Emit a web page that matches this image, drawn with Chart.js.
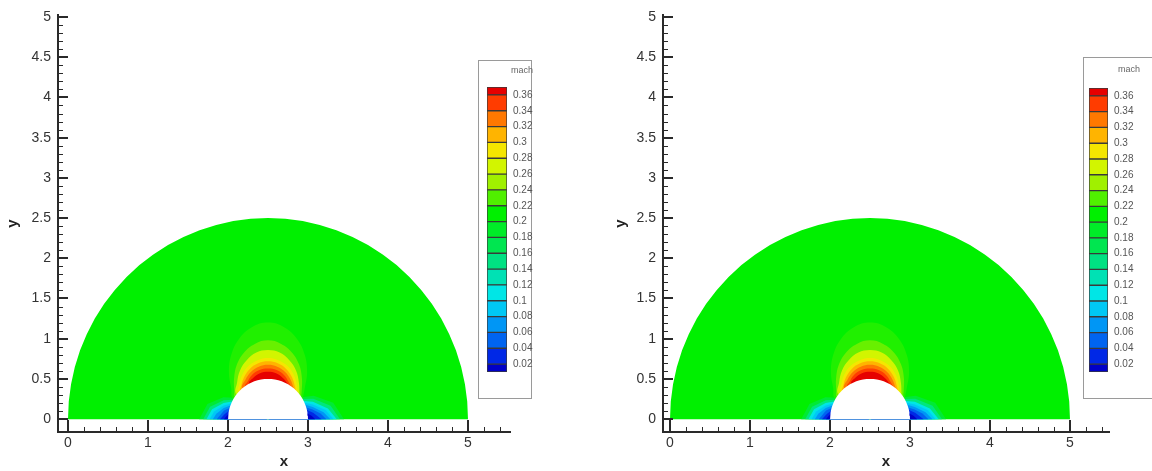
<!DOCTYPE html>
<html>
<head>
<meta charset="utf-8">
<script src="https://cdn.jsdelivr.net/npm/chart.js@4.4.0/dist/chart.umd.min.js"></script>
<style>
  html, body { margin: 0; padding: 0; background: #fff; }
  body { width: 1152px; height: 471px; position: relative; overflow: hidden; }
  canvas { position: absolute; }
  .legbox { position: absolute; border: 1px solid #9a9a9a; background: #fff; box-sizing: border-box; }
</style>
</head>
<body>
<canvas id="plotL" width="576" height="471" style="left:0;top:0"></canvas>
<canvas id="plotR" width="576" height="471" style="left:576px;top:0"></canvas>
<div class="legbox" style="left:478px;top:60px;width:54px;height:339px"></div>
<canvas id="barL" width="51" height="320" style="left:482px;top:64px"></canvas>
<div class="legbox" style="left:1083px;top:57px;width:80px;height:342px"></div>
<canvas id="barR" width="54" height="323" style="left:1086px;top:61px"></canvas>
<script>
Chart.defaults.font.family = "'Liberation Sans', Arial, sans-serif";

// colour bar levels (mach)
const LEVELS = [0.02, 0.04, 0.06, 0.08, 0.1, 0.12, 0.14, 0.16, 0.18, 0.2,
                0.22, 0.24, 0.26, 0.28, 0.3, 0.32, 0.34, 0.36];
const LEVEL_LABELS = ['0.02', '0.04', '0.06', '0.08', '0.1', '0.12', '0.14', '0.16', '0.18', '0.2',
                      '0.22', '0.24', '0.26', '0.28', '0.3', '0.32', '0.34', '0.36'];
const BAR_RANGE = [0.01, 0.37];
// one colour per band, from below 0.02 up to above 0.36
const BAND_COLORS = ['#0000c8', '#0028e6', '#0064f0', '#0096f5', '#00c8f5', '#00e6e6', '#00e1b4',
                     '#00e182', '#00e650', '#00ec28', '#00f000', '#50f000', '#a0f000', '#d2f500',
                     '#f5e600', '#ffb400', '#ff7800', '#ff3c00', '#e60000'];

// axes
const X_TICKS = [0, 1, 2, 3, 4, 5];
const X_LABELS = ['0', '1', '2', '3', '4', '5'];
const Y_TICKS = [0, 0.5, 1, 1.5, 2, 2.5, 3, 3.5, 4, 4.5, 5];
const Y_LABELS = ['0', '0.5', '1', '1.5', '2', '2.5', '3', '3.5', '4', '4.5', '5'];

// domain: half annulus round the cylinder
const CX = 2.5;
const R_OUT = 2.5;
const R_CYL = 0.5;
const ARC_DEG = [0, 5, 10, 15, 20, 25, 30, 35, 40, 45, 50, 55, 60, 65, 70, 75, 80, 85, 90,
                 95, 100, 105, 110, 115, 120, 125, 130, 135, 140, 145, 150, 155, 160, 165, 170, 175, 180];

// contour lines as [angle deg, radius] round the cylinder centre
// fast region over the top (mach above level)
const top22 = [[30, 0.5], [40, 0.6], [50, 0.76], [60, 0.92], [70, 1.06], [80, 1.16], [90, 1.2], [100, 1.16], [110, 1.06], [120, 0.92], [130, 0.76], [140, 0.6], [150, 0.5]];
const top24 = [[34, 0.5], [40, 0.55], [50, 0.66], [60, 0.78], [70, 0.88], [80, 0.95], [90, 0.98], [100, 0.95], [110, 0.88], [120, 0.78], [130, 0.66], [140, 0.55], [146, 0.5]];
const top26 = [[38, 0.5], [50, 0.6], [60, 0.7], [70, 0.78], [80, 0.84], [90, 0.86], [100, 0.84], [110, 0.78], [120, 0.7], [130, 0.6], [142, 0.5]];
const top28 = [[42, 0.5], [50, 0.56], [60, 0.64], [70, 0.705], [80, 0.745], [90, 0.76], [100, 0.745], [110, 0.705], [120, 0.64], [130, 0.56], [138, 0.5]];
const top30 = [[46, 0.5], [50, 0.525], [60, 0.6], [70, 0.665], [80, 0.705], [90, 0.72], [100, 0.705], [110, 0.665], [120, 0.6], [130, 0.525], [134, 0.5]];
const top32 = [[50, 0.5], [60, 0.565], [70, 0.625], [80, 0.662], [90, 0.675], [100, 0.662], [110, 0.625], [120, 0.565], [130, 0.5]];
const top34 = [[55, 0.5], [60, 0.525], [70, 0.585], [80, 0.62], [90, 0.63], [100, 0.62], [110, 0.585], [120, 0.525], [125, 0.5]];
const top36 = [[60, 0.5], [70, 0.545], [80, 0.58], [90, 0.59], [100, 0.58], [110, 0.545], [118, 0.5]];

// slow regions at the stagnation points (mach below level)
const low16R = [[33, 0.5], [27, 0.64], [14, 0.84], [0, 0.95]];
const low14R = [[30, 0.5], [24, 0.62], [12, 0.8], [0, 0.9]];
const low12R = [[27, 0.5], [21, 0.6], [10, 0.76], [0, 0.86]];
const low10R = [[24, 0.5], [18, 0.59], [9, 0.73], [0, 0.82]];
const low08R = [[21, 0.5], [15, 0.58], [7, 0.7], [0, 0.78]];
const low06R = [[17, 0.5], [12, 0.57], [6, 0.66], [0, 0.73]];
const low04R = [[13, 0.5], [8, 0.57], [0, 0.67]];
const low02R = [[8, 0.5], [4, 0.55], [0, 0.59]];

const low16L = [[148, 0.5], [154, 0.62], [166, 0.78], [180, 0.86]];
const low14L = [[151, 0.5], [157, 0.6], [168, 0.74], [180, 0.81]];
const low12L = [[154, 0.5], [160, 0.59], [170, 0.71], [180, 0.77]];
const low10L = [[157, 0.5], [163, 0.58], [172, 0.68], [180, 0.73]];
const low08L = [[160, 0.5], [166, 0.57], [174, 0.65], [180, 0.69]];
const low06L = [[164, 0.5], [169, 0.56], [180, 0.64]];
const low04L = [[168, 0.5], [174, 0.55], [180, 0.6]];
const low02L = [[173, 0.5], [177, 0.53], [180, 0.55]];

const LOWS = [[low16L, low16R], [low14L, low14R], [low12L, low12R], [low10L, low10R],
              [low08L, low08R], [low06L, low06R], [low04L, low04R], [low02L, low02R]];
const LOW_LEVELS = [0.16, 0.14, 0.12, 0.1, 0.08, 0.06, 0.04, 0.02];
const TOPS = [top22, top24, top26, top28, top30, top32, top34, top36];
const TOP_LEVELS = [0.22, 0.24, 0.26, 0.28, 0.3, 0.32, 0.34, 0.36];

const bandIndex = lev => Math.round(lev / 0.02);

// the field is smooth-shaded, so the outermost bands sit closer to the free-stream green
function mix(a, b, t) {
  const p = h => [1, 3, 5].map(k => parseInt(h.slice(k, k + 2), 16));
  const ca = p(a), cb = p(b);
  return 'rgb(' + ca.map((v, k) => Math.round(v + (cb[k] - v) * t)).join(',') + ')';
}

function shape(pairs, color, tension) {
  const pts = pairs.map(([t, r]) => ({
    x: CX + r * Math.cos(t * Math.PI / 180),
    y: r * Math.sin(t * Math.PI / 180)
  }));
  pts.push({ x: CX, y: 0 });
  return {
    data: pts, showLine: true, fill: 'shape', backgroundColor: color,
    borderWidth: 0, pointRadius: 0, pointHitRadius: 0, tension: tension
  };
}

// inward tick marks, major and minor, like the original plot
const inwardTicks = {
  id: 'inwardTicks',
  afterDraw(chart) {
    const { ctx, chartArea: a, scales: { x, y } } = chart;
    ctx.save();
    ctx.strokeStyle = '#2a2a2a';
    ctx.lineWidth = 1;
    ctx.beginPath();
    for (let i = 0; i * 0.2 <= x.max; i++) {
      if (i % 5 === 0) continue;
      const px = Math.round(x.getPixelForValue(i * 0.2)) + 0.5;
      ctx.moveTo(px, a.bottom);
      ctx.lineTo(px, a.bottom - 5);
    }
    for (let i = 0; i * 0.1 <= y.max; i++) {
      if (i % 5 === 0) continue;
      const py = Math.round(y.getPixelForValue(i * 0.1)) + 0.5;
      ctx.moveTo(a.left, py);
      ctx.lineTo(a.left + 5, py);
    }
    ctx.stroke();
    ctx.lineWidth = 2;
    ctx.beginPath();
    X_TICKS.forEach(v => {
      const px = Math.round(x.getPixelForValue(v));
      ctx.moveTo(px, a.bottom);
      ctx.lineTo(px, a.bottom - 12);
    });
    Y_TICKS.forEach(v => {
      const py = Math.round(y.getPixelForValue(v));
      ctx.moveTo(a.left, py);
      ctx.lineTo(a.left + 10, py);
    });
    ctx.stroke();
    ctx.restore();
  }
};

function makePlot(id, o) {
  const bg = BAND_COLORS[10];
  const layers = [shape(ARC_DEG.map(t => [t, R_OUT]), bg, 0)];
  LOWS.forEach((pair, i) => {
    let c = BAND_COLORS[bandIndex(LOW_LEVELS[i]) - 1];
    if (i === 0) c = mix(c, bg, 0.6);
    if (i === 1) c = mix(c, bg, 0.3);
    pair.forEach(p => layers.push(shape(p, c, 0)));
  });
  TOPS.forEach((p, i) => {
    let c = BAND_COLORS[bandIndex(TOP_LEVELS[i])];
    if (i === 0) c = mix(c, bg, 0.6);
    if (i === 1) c = mix(c, bg, 0.35);
    layers.push(shape(p, c, 0.4));
  });
  layers.push(shape(ARC_DEG.map(t => [t, R_CYL]), '#ffffff', 0));

  return new Chart(document.getElementById(id), {
    type: 'scatter',
    data: { datasets: layers.reverse() },
    options: {
      responsive: false, animation: false, devicePixelRatio: 1, events: [],
      layout: { padding: { left: o.padLeft, top: 15, right: o.padRight, bottom: 0 } },
      plugins: { legend: { display: false }, tooltip: { enabled: false } },
      scales: {
        x: {
          type: 'linear', position: 'bottom', min: o.xMin, max: o.xMax,
          afterFit: s => { s.height = 39; },
          afterBuildTicks: s => { s.ticks = X_TICKS.map(v => ({ value: v })); },
          grid: { display: false, drawTicks: false },
          border: { display: true, color: '#2a2a2a', width: 2 },
          ticks: { callback: (v, i) => X_LABELS[i], font: { size: 14 }, color: '#333',
                   padding: 3, maxRotation: 0, autoSkip: false },
          title: { display: true, text: 'x', font: { size: 15, weight: 'bold' }, color: '#222',
                   padding: { top: 0, bottom: 0 } }
        },
        y: {
          type: 'linear', min: -0.16, max: 5.02,
          afterFit: s => { s.width = o.yWidth; },
          afterBuildTicks: s => { s.ticks = Y_TICKS.map(v => ({ value: v })); },
          grid: { display: false, drawTicks: false },
          border: { display: true, color: '#2a2a2a', width: 2 },
          ticks: { callback: (v, i) => Y_LABELS[i], font: { size: 14 }, color: '#333',
                   padding: 7, autoSkip: false },
          title: { display: true, text: 'y', font: { size: 15, weight: 'bold' }, color: '#222',
                   padding: { top: 4, bottom: 0 } }
        }
      }
    },
    plugins: [inwardTicks]
  });
}

function makeBar(id, o) {
  const edges = [BAR_RANGE[0], ...LEVELS, BAR_RANGE[1]];
  const datasets = BAND_COLORS.map((c, i) => ({
    data: [[edges[i], edges[i + 1]]],
    backgroundColor: c, borderColor: '#3a3a3a', borderWidth: 1, borderSkipped: false,
    grouped: false, barPercentage: 1, categoryPercentage: 1
  }));
  return new Chart(document.getElementById(id), {
    type: 'bar',
    data: { labels: ['mach'], datasets },
    options: {
      responsive: false, animation: false, devicePixelRatio: 1, events: [],
      layout: { padding: { left: o.padL, top: o.padT, right: 0, bottom: 6 } },
      plugins: {
        legend: { display: false }, tooltip: { enabled: false },
        title: { display: true, text: 'mach', align: 'end', font: { size: 9, weight: 'normal' },
                 color: '#666', padding: { top: 0, bottom: o.titleGap } }
      },
      scales: {
        x: { display: false },
        y: {
          position: 'right', min: BAR_RANGE[0], max: BAR_RANGE[1],
          afterFit: s => { s.width = o.axisW; },
          afterBuildTicks: s => { s.ticks = LEVELS.map(v => ({ value: v })); },
          grid: { display: false, drawTicks: false },
          border: { display: false },
          ticks: { callback: (v, i) => LEVEL_LABELS[i], font: { size: 10 }, color: '#555',
                   padding: 6, autoSkip: false }
        }
      }
    }
  });
}

makePlot('plotL', { xMin: -0.125, xMax: 5.525, padLeft: 0, yWidth: 58, padRight: 66 });
makePlot('plotR', { xMin: -0.0875, xMax: 5.4875, padLeft: 32, yWidth: 55, padRight: 43 });
makeBar('barL', { padL: 5, padT: 1.2, titleGap: 11, axisW: 26 });
makeBar('barR', { padL: 3, padT: 3.6, titleGap: 12.6, axisW: 32 });
</script>
</body>
</html>
